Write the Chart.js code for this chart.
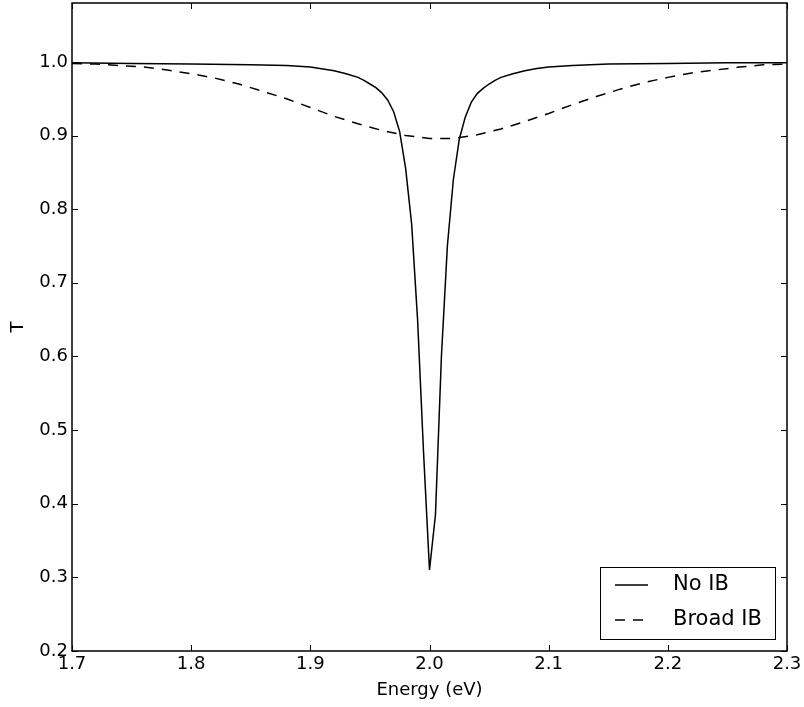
<!DOCTYPE html>
<html>
<head>
<meta charset="utf-8">
<script src="https://cdn.jsdelivr.net/npm/chart.js@4/dist/chart.umd.min.js"></script>
<style>
    body { margin: 0; background: #fff; }
    canvas { display: block; }
</style>
</head>
<body>
<canvas id="myChart" width="804" height="707"></canvas>
<script>
// values
const noIbEnergy = [1.70, 1.75, 1.80, 1.85, 1.88, 1.90, 1.92, 1.93, 1.94, 1.945, 1.95, 1.955, 1.96,
    1.965, 1.97, 1.975, 1.98, 1.985, 1.99, 1.995, 2.00,
    2.005, 2.01, 2.015, 2.02, 2.025, 2.03, 2.035, 2.04,
    2.045, 2.05, 2.055, 2.06, 2.07, 2.08, 2.09, 2.10, 2.12, 2.15, 2.20, 2.25, 2.30];
const noIbT = [0.999, 0.998, 0.997, 0.996, 0.995, 0.993, 0.988, 0.984, 0.979, 0.975, 0.970, 0.965, 0.958,
    0.948, 0.932, 0.905, 0.855, 0.78, 0.65, 0.47, 0.31,
    0.385, 0.60, 0.75, 0.84, 0.895, 0.925, 0.945, 0.957,
    0.964, 0.970, 0.975, 0.979, 0.984, 0.988, 0.991, 0.993, 0.995, 0.997, 0.998, 0.999, 0.999];

const broadEnergy = [1.70, 1.72, 1.74, 1.76, 1.78, 1.80, 1.82, 1.84, 1.86, 1.88,
    1.90, 1.92, 1.94, 1.96, 1.98, 2.00, 2.02, 2.04, 2.06, 2.08,
    2.10, 2.12, 2.14, 2.16, 2.18, 2.20, 2.22, 2.24, 2.26, 2.28, 2.30];
const broadT = [0.998, 0.997, 0.995, 0.993, 0.989, 0.984, 0.978, 0.970, 0.960, 0.950,
    0.938, 0.926, 0.916, 0.907, 0.900, 0.896, 0.896, 0.901, 0.909, 0.919,
    0.930, 0.942, 0.953, 0.963, 0.972, 0.979, 0.985, 0.989, 0.993, 0.996, 0.997];

const seriesLabels = ["No IB", "Broad IB"];
const xTicks = [1.7, 1.8, 1.9, 2.0, 2.1, 2.2, 2.3];
const yTicks = [0.2, 0.3, 0.4, 0.5, 0.6, 0.7, 0.8, 0.9, 1.0];

Chart.defaults.font.family = "'DejaVu Sans', sans-serif";
Chart.defaults.color = "#000";

/**
 *
 * @param {number[]} xs
 * @param {number[]} ys
 * @returns list of {x, y} points for a linear x axis
 */
function toPoints(xs, ys) {
    return xs.map((x, i) => ({ x: x, y: ys[i] }));
}

// frame, inward ticks on all four sides, and the boxed legend in the corner
const framePlugin = {
    id: 'frame',
    afterDraw(chart) {
        const ctx = chart.ctx;
        const area = chart.chartArea;
        const tickLen = 6;
        ctx.save();
        ctx.strokeStyle = '#000';
        ctx.lineWidth = 1;
        ctx.setLineDash([]);
        ctx.beginPath();
        chart.scales.x.ticks.forEach(t => {
            const px = Math.round(chart.scales.x.getPixelForValue(t.value)) + 0.5;
            ctx.moveTo(px, area.bottom);
            ctx.lineTo(px, area.bottom - tickLen);
            ctx.moveTo(px, area.top);
            ctx.lineTo(px, area.top + tickLen);
        });
        chart.scales.y.ticks.forEach(t => {
            const py = Math.round(chart.scales.y.getPixelForValue(t.value)) + 0.5;
            ctx.moveTo(area.left, py);
            ctx.lineTo(area.left + tickLen, py);
            ctx.moveTo(area.right, py);
            ctx.lineTo(area.right - tickLen, py);
        });
        ctx.stroke();

        ctx.lineWidth = 1.5;
        ctx.strokeRect(area.left, area.top, area.right - area.left, area.bottom - area.top);

        // legend
        const boxW = 175, boxH = 72;
        const bx = area.right - 12 - boxW;
        const by = area.bottom - 12 - boxH;
        ctx.fillStyle = '#fff';
        ctx.fillRect(bx, by, boxW, boxH);
        ctx.lineWidth = 1;
        ctx.strokeRect(bx + 0.5, by + 0.5, boxW, boxH);
        ctx.font = "21px 'DejaVu Sans'";
        ctx.textBaseline = 'middle';
        chart.data.datasets.forEach((ds, i) => {
            const rowY = by + 18 + i * 35;
            ctx.strokeStyle = ds.borderColor;
            ctx.lineWidth = ds.borderWidth;
            ctx.setLineDash(ds.borderDash || []);
            ctx.beginPath();
            ctx.moveTo(bx + 15, rowY);
            ctx.lineTo(bx + 48, rowY);
            ctx.stroke();
            ctx.setLineDash([]);
            ctx.fillStyle = '#000';
            ctx.fillText(ds.label, bx + 73, rowY);
        });
        ctx.restore();
    }
};

const myChart = new Chart("myChart", {
    type: "line",
    data: {
        datasets: [{
            label: seriesLabels[0],
            data: toPoints(noIbEnergy, noIbT),
            borderColor: "#000",
            borderWidth: 1.5,
            pointRadius: 0,
            tension: 0,
            fill: false
        }, {
            label: seriesLabels[1],
            data: toPoints(broadEnergy, broadT),
            borderColor: "#000",
            borderWidth: 1.5,
            borderDash: [10, 8],
            pointRadius: 0,
            tension: 0,
            fill: false
        }]
    },
    options: {
        responsive: false,
        animation: false,
        layout: { padding: { top: 3, right: 17, bottom: 0, left: 0 } },
        plugins: {
            legend: { display: false },
            tooltip: { enabled: false }
        },
        scales: {
            x: {
                type: "linear",
                min: 1.7,
                max: 2.3,
                grid: { display: false, drawTicks: false },
                border: { display: false },
                afterBuildTicks: scale => {
                    scale.ticks = xTicks.map(v => ({ value: v }));
                },
                afterFit: scale => {
                    scale.height = 56;
                    scale.paddingLeft = 0;
                    scale.paddingRight = 0;
                },
                ticks: {
                    autoSkip: false,
                    maxRotation: 0,
                    padding: 3,
                    font: { size: 18 },
                    callback: v => v.toFixed(1)
                },
                title: {
                    display: true,
                    text: "Energy (eV)",
                    font: { size: 18 },
                    padding: { top: 0, bottom: 6 }
                }
            },
            y: {
                min: 0.2,
                max: 1.08,
                grid: { display: false, drawTicks: false },
                border: { display: false },
                afterBuildTicks: scale => {
                    scale.ticks = yTicks.map(v => ({ value: v }));
                },
                afterFit: scale => {
                    scale.width = 72;
                    scale.paddingTop = 0;
                    scale.paddingBottom = 0;
                },
                ticks: {
                    padding: 4,
                    font: { size: 18 },
                    callback: v => v.toFixed(1)
                },
                title: {
                    display: true,
                    text: "T",
                    font: { size: 18 },
                    padding: { top: 8, bottom: 0 }
                }
            }
        }
    },
    plugins: [framePlugin]
});
</script>
</body>
</html>
